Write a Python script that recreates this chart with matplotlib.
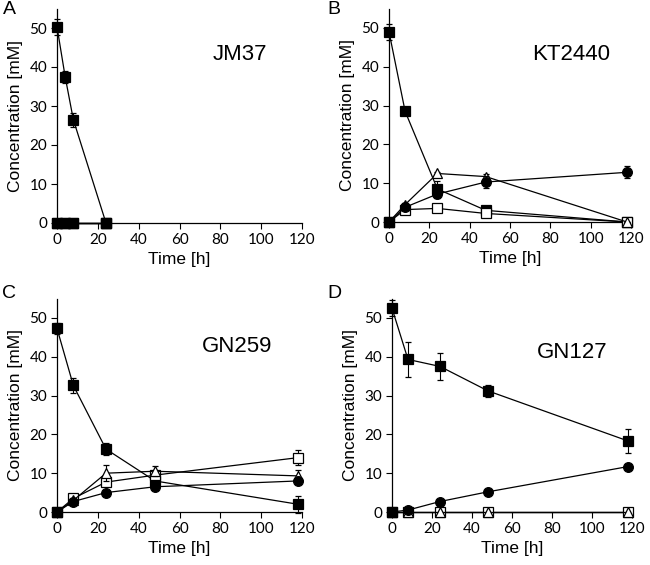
import numpy as np
import matplotlib
matplotlib.use("Agg")
import matplotlib.pyplot as plt

plt.rcParams.update({"font.family": "Liberation Sans", "axes.linewidth": 0.9})

# ---- data ----
t_a = [0, 4, 8, 24]
a_sq = [50.3, 37.5, 26.5, 0]
a_sq_err = [2.0, 1.5, 1.8, 0]
a_zero = [0, 0, 0, 0]

t = [0, 8, 24, 48, 118]
t0 = [0]
start0 = [0]   # black square at the origin in B-D

b_sq = [49.0, 28.5, 8.5, 3.0, 0]
b_sq_err = [2.0, 0.6, 2.0, 0.8, 0]
b_ci = [0, 3.8, 7.2, 10.3, 12.8]
b_ci_err = [0, 0.8, 1.0, 1.5, 1.5]
b_tri = [0, 4.5, 12.5, 11.7, 0]
b_tri_err = [0, 0.5, 0.5, 0.6, 0]
b_osq = [0, 3.2, 3.5, 2.2, 0]
b_osq_err = [0, 0.3, 0.3, 0.3, 0]

c_sq = [47.3, 32.6, 16.2, 8.0, 2.0]
c_sq_err = [1.5, 2.0, 1.5, 0.5, 2.2]
c_osq = [0, 3.5, 7.7, 9.5, 14.0]
c_osq_err = [0, 0.4, 1.0, 1.0, 2.0]
c_tri = [0, 3.0, 10.0, 10.5, 9.3]
c_tri_err = [0, 0.4, 2.0, 1.3, 1.5]
c_ci = [0, 2.7, 5.0, 6.5, 8.0]
c_ci_err = [0, 0.3, 0.4, 0.5, 0.8]

d_sq = [52.5, 39.3, 37.5, 31.2, 18.3]
d_sq_err = [2.0, 4.4, 3.4, 1.5, 3.1]
d_ci = [0, 0.5, 2.7, 5.2, 11.7]
d_ci_err = [0, 0.2, 0.3, 0.3, 0.4]
d_zero = [0, 0, 0, 0, 0]

panels = ["A", "B", "C", "D"]
strains = ["JM37", "KT2440", "GN259", "GN127"]

W, H = 650, 565
fig = plt.figure(figsize=(6.5, 5.65), dpi=100)


def px_axes(x0, x1, ytop, ybot):
    return fig.add_axes([x0 / W, 1 - ybot / H, (x1 - x0) / W, (ybot - ytop) / H])


axes = [px_axes(57, 302, 8.5, 223), px_axes(389, 631, 8.5, 222),
        px_axes(57, 302, 298.5, 512), px_axes(392, 632, 298.5, 512)]

styles = {
    "sq": dict(marker="s", mfc="black", ms=7),
    "ci": dict(marker="o", mfc="black", ms=7),
    "tri": dict(marker="^", mfc="white", ms=7.5),
    "osq": dict(marker="s", mfc="white", ms=7),
}
zo = {"sq": 2, "osq": 3, "tri": 4, "ci": 5}


def series(ax, x, y, err, kind, z=None):
    ax.errorbar(x, y, yerr=err, color="black", lw=0.9, mec="black", mew=0.9,
                elinewidth=0.8, capsize=2.5, capthick=0.8, clip_on=False,
                zorder=zo[kind] if z is None else z, **styles[kind])


ax = axes[0]
series(ax, t_a, a_zero, None, "osq")
series(ax, t_a, a_zero, None, "tri")
series(ax, t_a, a_zero, None, "ci")
series(ax, t_a, a_zero, None, "sq", 6)
series(ax, t_a, a_sq, a_sq_err, "sq", 6)

ax = axes[1]
series(ax, t, b_sq, b_sq_err, "sq")
series(ax, t, b_osq, b_osq_err, "osq")
series(ax, t, b_tri, b_tri_err, "tri")
series(ax, t, b_ci, b_ci_err, "ci")

ax = axes[2]
series(ax, t, c_sq, c_sq_err, "sq")
series(ax, t, c_osq, c_osq_err, "osq")
series(ax, t, c_tri, c_tri_err, "tri")
series(ax, t, c_ci, c_ci_err, "ci")

ax = axes[3]
series(ax, t, d_sq, d_sq_err, "sq")
series(ax, t, d_zero, None, "osq")
series(ax, t, d_zero, None, "tri")
series(ax, t, d_ci, d_ci_err, "ci")

for ax in axes[1:]:
    series(ax, t0, start0, None, "sq", 7)

for ax in axes:
    ax.set_xlim(0, 120)
    ax.set_ylim(0, 55)
    ax.set_xticks(np.arange(0, 121, 20))
    ax.set_yticks(np.arange(0, 51, 10))
    ax.spines["top"].set_visible(False)
    ax.spines["right"].set_visible(False)
    ax.tick_params(direction="out", length=4, width=0.8, pad=3)
    for lab in ax.get_xticklabels() + ax.get_yticklabels():
        lab.set_fontfamily("Lato")
        lab.set_fontsize(11)
    ax.set_xlabel("Time [h]", fontsize=12.5, labelpad=4)
    ax.set_ylabel("Concentration [mM]", fontsize=12.5, labelpad=5)

letter_pos = [(9, 10), (334, 10), (9, 293), (334, 293)]
for (x, y), p in zip(letter_pos, panels):
    fig.text(x / W, 1 - y / H, p, fontsize=14, ha="center", va="center")

strain_pos = [(240, 54), (571, 55), (237, 347), (572, 352)]
for (x, y), s in zip(strain_pos, strains):
    fig.text(x / W, 1 - y / H, s, fontsize=16, ha="center", va="center")

fig.savefig("out.png", dpi=100)
